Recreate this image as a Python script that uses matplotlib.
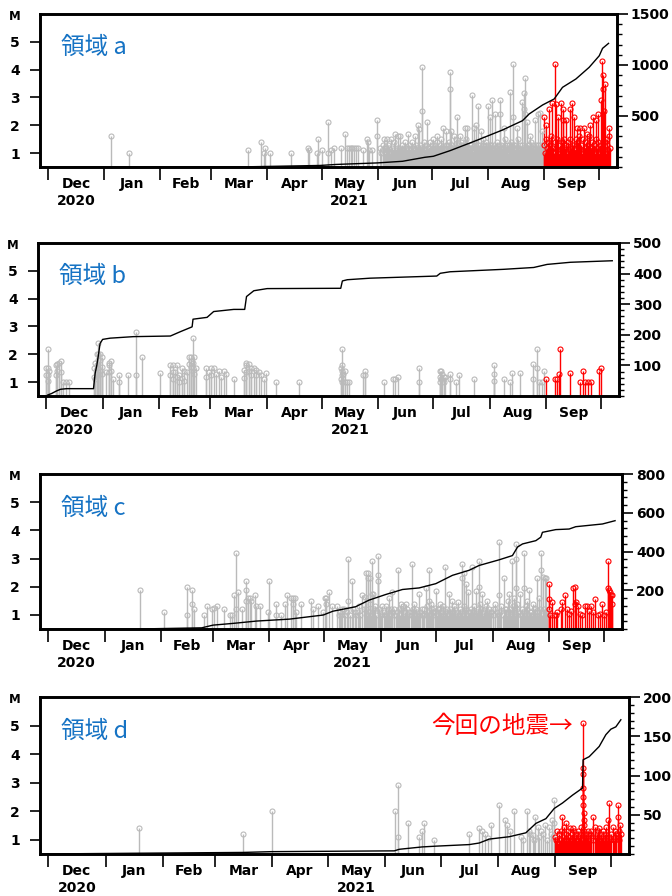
# -*- coding: utf-8 -*-
import matplotlib
matplotlib.use('Agg')
import matplotlib.pyplot as plt
from matplotlib.ticker import MultipleLocator
import numpy as np
import pandas as pd

plt.rcParams['font.family'] = ['DejaVu Sans']

# 基準日 (経過日数 0 = 2020-12-01)
BASE = pd.Timestamp('2020-12-01')
RECENT = 273.6          # 9月以降のイベントを赤で表示
XMIN, XMAX = -4.4, 313.8

# ---------------- 領域 a : (経過日数, M)
a_events = [
    (34.8, 1.6), (44.7, 1.0), (110.5, 1.1), (117.4, 1.4), (119.0, 1.0), (120.0, 1.2), (122.5, 1.0),
    (134.0, 1.0), (143.5, 1.2), (143.9, 1.1), (148.4, 1.0), (149.0, 1.5), (151.0, 1.1), (154.5, 1.0),
    (154.7, 2.1), (156.0, 1.1), (158.0, 1.2), (161.9, 1.2), (164.1, 1.7), (165.0, 1.2), (166.0, 1.2),
    (167.2, 1.2), (168.0, 1.2), (169.0, 1.2), (170.0, 1.2), (171.3, 1.2), (173.8, 1.1), (176.0, 1.5),
    (176.4, 1.4), (177.0, 1.1), (178.6, 1.1), (181.6, 2.2), (181.7, 1.6),
    (183.5, 1.2), (184.7, 1.3), (185.6, 1.5), (186.4, 1.2), (187.0, 1.5), (187.8, 1.3), (188.6, 1.0),
    (189.3, 1.5), (190.0, 1.2), (190.8, 1.4), (191.5, 1.7), (192.2, 1.1), (193.0, 1.6), (193.7, 1.2),
    (194.3, 1.6), (195.2, 1.3), (196.0, 1.1), (196.8, 1.4), (197.5, 1.2), (198.5, 1.7), (199.2, 1.3),
    (200.0, 1.1), (200.8, 1.4), (201.5, 1.2), (202.5, 1.6), (203.3, 1.3), (204.0, 1.1), (204.4, 2.0),
    (204.6, 1.85), (205.4, 1.3), (206.0, 1.2), (206.6, 4.1), (206.7, 2.5), (207.3, 1.4), (208.0, 1.1),
    (208.6, 1.3), (209.3, 2.1), (209.9, 1.2),
    (212.7, 1.5), (215.0, 1.6), (218.2, 1.9), (219.6, 1.8), (221.9, 3.9), (222.0, 3.3), (222.2, 1.8),
    (224.0, 1.6), (225.9, 2.3), (227.5, 1.6), (230.0, 1.9), (231.5, 1.9), (234.2, 3.1), (235.0, 1.9),
    (236.2, 2.0), (237.4, 2.7), (239.0, 1.8), (243.0, 2.7), (244.0, 2.3), (245.3, 2.9), (246.5, 2.4),
    (249.4, 2.9), (249.6, 2.4), (251.5, 1.9), (254.9, 3.2), (256.4, 4.2), (256.5, 2.3), (258.8, 1.9),
    (261.9, 2.85), (262.6, 3.15), (262.7, 2.6), (263.2, 3.7), (263.5, 2.4), (264.2, 2.1), (266.0, 1.6),
    (268.7, 2.2), (270.5, 2.4), (271.4, 2.45), (272.5, 1.8),
    (210.3, 1.2), (211.0, 1.4), (211.6, 1.1), (212.2, 1.3), (213.3, 1.0), (213.9, 1.2), (214.5, 1.4),
    (215.6, 1.1), (216.2, 1.3), (216.8, 1.5), (217.4, 1.2), (218.9, 1.0), (220.3, 1.3), (220.9, 1.1),
    (221.4, 1.4), (222.7, 1.2), (223.3, 1.0), (224.6, 1.3), (225.2, 1.5), (226.5, 1.1), (227.0, 1.2),
    (228.1, 1.4), (228.7, 1.0), (229.3, 1.3), (230.6, 1.1), (231.0, 1.5), (232.1, 1.2), (232.7, 1.0),
    (233.4, 1.3), (233.9, 1.1), (235.6, 1.4), (236.8, 1.2), (237.9, 1.0), (238.4, 1.3), (239.6, 1.1),
    (240.2, 1.5), (240.8, 1.2), (241.4, 1.0), (242.0, 1.4), (242.5, 1.2), (243.6, 1.1), (244.6, 1.3),
    (245.9, 1.0), (247.1, 1.2), (247.7, 1.4), (248.3, 1.1), (248.9, 1.3), (250.2, 1.0), (250.8, 1.2),
    (252.1, 1.5), (252.7, 1.1), (253.3, 1.3), (253.9, 1.0), (254.4, 1.2), (255.5, 1.4), (256.0, 1.1),
    (257.1, 1.3), (257.6, 1.0), (258.2, 1.2), (259.4, 1.5), (260.0, 1.1), (260.6, 1.3), (261.2, 1.0),
    (262.0, 1.2), (264.8, 1.3), (265.4, 1.1), (266.6, 1.4), (267.2, 1.0), (267.8, 1.2), (269.3, 1.3),
    (269.9, 1.1), (271.0, 1.0), (271.9, 1.2), (273.0, 1.3),
    (183.9, 1.0), (185.1, 1.1), (186.0, 1.0), (187.4, 1.1), (188.2, 1.2), (189.7, 1.0), (190.4, 1.1),
    (191.1, 1.0), (192.6, 1.2), (193.4, 1.0), (194.8, 1.1), (195.6, 1.0), (196.4, 1.2), (197.1, 1.0),
    (198.0, 1.1), (199.6, 1.0), (200.4, 1.2), (201.1, 1.0), (202.0, 1.1), (202.9, 1.0), (203.7, 1.2),
    (205.0, 1.0), (205.7, 1.1), (207.0, 1.0), (207.7, 1.2), (208.3, 1.0), (209.6, 1.1), (210.6, 1.0),
    (211.3, 1.1), (211.9, 1.0), (212.5, 1.2), (213.0, 1.1), (213.6, 1.3), (214.2, 1.0), (214.8, 1.2),
    (215.3, 1.1), (215.9, 1.0), (216.5, 1.2), (217.1, 1.0), (217.7, 1.1), (218.5, 1.2), (219.2, 1.1),
    (219.9, 1.3), (220.6, 1.0), (221.1, 1.2), (221.7, 1.1), (222.4, 1.0), (223.0, 1.3), (223.6, 1.1),
    (224.3, 1.2), (224.9, 1.0), (225.5, 1.1), (226.2, 1.3), (226.8, 1.0), (227.3, 1.1), (227.8, 1.3),
    (228.4, 1.2), (229.0, 1.1), (229.6, 1.0), (230.3, 1.2), (230.9, 1.3), (231.3, 1.0), (231.8, 1.2),
    (232.4, 1.1), (233.0, 1.3), (233.7, 1.2), (234.5, 1.0), (235.3, 1.1), (235.9, 1.2), (236.5, 1.0),
    (237.1, 1.3), (237.7, 1.1), (238.1, 1.2), (238.7, 1.0), (239.3, 1.2), (239.9, 1.3), (240.5, 1.0),
    (241.1, 1.1), (241.7, 1.3), (242.3, 1.0), (242.8, 1.1), (243.3, 1.2), (243.9, 1.3), (244.3, 1.0),
    (244.9, 1.2), (245.6, 1.1), (246.2, 1.3), (246.8, 1.1), (247.4, 1.0), (248.0, 1.2), (248.6, 1.0),
    (249.2, 1.1), (249.9, 1.3), (250.5, 1.1), (251.1, 1.2), (251.8, 1.0), (252.4, 1.3), (253.0, 1.2),
    (253.6, 1.1), (254.2, 1.3), (254.7, 1.0), (255.2, 1.2), (255.8, 1.1), (256.3, 1.3), (256.8, 1.0),
    (257.3, 1.2), (257.9, 1.1), (258.5, 1.3), (259.1, 1.0), (259.7, 1.2), (260.3, 1.0), (260.9, 1.1),
    (261.5, 1.3), (262.3, 1.1), (262.9, 1.0), (263.8, 1.2), (264.5, 1.0), (265.1, 1.2), (265.7, 1.3),
    (266.3, 1.1), (266.9, 1.2), (267.5, 1.3), (268.1, 1.1), (268.4, 1.0), (269.0, 1.2), (269.6, 1.0),
    (270.2, 1.3), (270.8, 1.1), (271.6, 1.3), (272.2, 1.0), (272.8, 1.1), (273.3, 1.2),
    # 9月
    (273.7, 2.3), (275.1, 2.0), (276.6, 2.6), (278.4, 2.8), (280.1, 4.2), (280.2, 2.75), (281.6, 2.3),
    (282.9, 2.8), (284.0, 2.6), (284.2, 2.2), (286.2, 2.2), (288.4, 2.6), (289.3, 2.8), (290.4, 2.3),
    (291.9, 1.9), (293.8, 1.9), (295.7, 1.9), (297.4, 1.7), (299.4, 2.0), (300.9, 2.3), (302.7, 2.2),
    (303.4, 2.4), (305.5, 2.9), (306.0, 4.3), (306.1, 3.8), (306.2, 3.3), (306.8, 2.5), (307.7, 3.5),
    (308.8, 1.5), (309.6, 1.9),
    (273.8, 1.3), (274.3, 1.0), (274.8, 1.5), (275.4, 1.2), (275.9, 1.4), (276.2, 1.0), (276.9, 1.3),
    (277.4, 1.1), (277.9, 1.6), (278.9, 1.2), (279.4, 1.0), (279.8, 1.4), (280.6, 1.2), (281.1, 1.5),
    (281.9, 1.0), (282.4, 1.3), (283.4, 1.1), (283.7, 1.4), (284.4, 1.0), (284.9, 1.5), (285.4, 1.2),
    (285.8, 1.3), (286.6, 1.0), (287.0, 1.4), (287.5, 1.1), (287.9, 1.5), (288.8, 1.2), (289.7, 1.0),
    (290.0, 1.3), (290.8, 1.1), (291.2, 1.5), (291.7, 1.2), (292.2, 1.0), (292.7, 1.4), (293.1, 1.6),
    (293.6, 1.1), (294.1, 1.3), (294.6, 1.0), (295.1, 1.5), (296.2, 1.2), (296.7, 1.0), (297.2, 1.4),
    (297.7, 1.1), (298.2, 1.3), (298.7, 1.6), (299.2, 1.0), (299.7, 1.2), (300.2, 1.4), (300.6, 1.1),
    (301.4, 1.3), (301.9, 1.0), (302.3, 1.5), (303.2, 1.2), (303.7, 1.4), (304.2, 1.0), (304.7, 1.3),
    (305.0, 1.1), (306.4, 1.2), (307.2, 1.4), (308.2, 1.0), (308.5, 1.3), (309.3, 1.1), (309.8, 1.6),
    (310.1, 1.2),
]
a_cum_day = [-4.4, 34, 110, 150, 159, 181.7, 195.7, 208, 212.7, 221.9, 236.2, 250.9, 261.9, 265.6,
             273, 279.4, 284, 291.4, 298.7, 304.3, 306.1, 309.4]
a_cum_n = [0, 1, 2, 15, 25, 40, 56, 95, 105, 160, 258, 363, 454, 520, 608, 667, 781, 863, 977,
           1091, 1163, 1212]

# ---------------- 領域 b
b_events = [
    (0.0, 1.5), (0.0, 1.25), (0.9, 2.2), (0.9, 1.5), (0.9, 1.25), (0.9, 1.05), (1.6, 1.4),
    (5.3, 1.6), (5.3, 1.25), (6.2, 1.65), (6.2, 1.4), (7.1, 1.7), (8.0, 1.75), (8.0, 1.35),
    (9.5, 1.0), (10.8, 1.0), (12.4, 1.0),
    (26.0, 1.5), (26.0, 1.2), (26.9, 1.7), (26.9, 1.1), (27.8, 2.0), (27.8, 1.6), (27.8, 1.3),
    (28.7, 2.4), (28.7, 2.0), (28.7, 1.8), (28.7, 1.5), (28.7, 1.25), (29.6, 2.0), (29.6, 1.8),
    (29.6, 1.4), (30.6, 1.9), (30.6, 1.55), (30.6, 1.3), (32.9, 1.35), (34.7, 1.7), (34.7, 1.6),
    (34.7, 1.35), (35.7, 1.75), (35.7, 1.4), (36.9, 1.1), (40.1, 1.25), (40.1, 1.0), (44.8, 1.25),
    (49.2, 2.8), (49.2, 1.25), (52.3, 1.9), (62.2, 1.33),
    (68.1, 1.6), (68.1, 1.25), (69.5, 1.6), (69.5, 1.35), (69.5, 1.1), (70.8, 1.35), (71.7, 1.6),
    (71.7, 1.2), (73.0, 1.25), (73.0, 1.0), (74.5, 1.5), (74.5, 1.15), (75.7, 1.4), (75.7, 1.05),
    (77.2, 1.35), (78.1, 1.9), (78.1, 1.65), (79.4, 1.9), (79.4, 1.75), (79.4, 1.55), (80.3, 2.6),
    (80.3, 1.7), (80.3, 1.5), (81.2, 1.9), (81.2, 1.3), (82.3, 1.5),
    (87.8, 1.5), (87.8, 1.2), (89.1, 1.35), (90.4, 1.5), (90.4, 1.25), (91.8, 1.5), (93.1, 1.3),
    (94.6, 1.4), (95.9, 1.2), (97.3, 1.4), (98.8, 1.3), (102.8, 1.1),
    (108.3, 1.45), (108.3, 1.15), (109.6, 1.7), (109.6, 1.6), (109.6, 1.35), (111.0, 1.65),
    (111.0, 1.4), (112.3, 1.5), (112.3, 1.25), (113.8, 1.5), (115.1, 1.45), (115.1, 1.25),
    (116.5, 1.35), (117.5, 1.25), (119.6, 1.1), (120.6, 1.33), (125.9, 1.0), (138.3, 1.0),
    (161.4, 1.5), (161.4, 1.1), (161.9, 2.2), (161.9, 1.6), (161.9, 1.4), (161.9, 1.25), (161.9, 1.0),
    (162.7, 1.3), (163.7, 1.4), (163.7, 1.0), (164.7, 1.0), (165.8, 1.0), (173.4, 1.25),
    (174.7, 1.4), (174.7, 1.25), (185.3, 1.0), (189.9, 1.1), (191.2, 1.1), (192.6, 1.2),
    (204.5, 1.5), (204.5, 1.0), (215.5, 1.4), (215.5, 1.2), (215.5, 1.0), (216.3, 1.4), (216.3, 1.1),
    (217.0, 1.3), (217.7, 1.2), (217.7, 1.0), (218.6, 1.2), (221.4, 1.3), (221.4, 1.1), (224.5, 1.0),
    (226.3, 1.25), (234.5, 1.1), (245.2, 1.6), (245.2, 1.3), (245.2, 1.05), (251.0, 1.1),
    (254.0, 1.0), (255.2, 1.33), (259.4, 1.33), (266.7, 1.65), (266.7, 1.1), (268.9, 2.2),
    (268.9, 1.5), (269.9, 1.0), (271.7, 1.0), (272.6, 1.4),
    # 9月
    (274.0, 1.1), (279.0, 1.1), (279.9, 1.1), (280.8, 1.3), (281.7, 2.2), (286.7, 1.33),
    (292.2, 1.0), (294.0, 1.4), (295.4, 1.0), (296.7, 1.0), (298.2, 1.0), (302.8, 1.4), (304.2, 1.5),
]
b_cum_day = [-4.4, 0.5, 0.8, 3, 5.9, 8, 11.3, 26, 26.9, 27.8, 28.7, 29.6, 31, 35.1, 47.9, 68.1,
             73.5, 80, 80.5, 88.2, 91.8, 102.8, 108.8, 109.8, 113.8, 121.1, 161.4, 162.3, 165,
             177.4, 214, 215.9, 221.3, 250.7, 267.1, 274.4, 287.2, 310.1]
b_cum_n = [0, 0, 3, 8, 17, 22, 24, 24, 74, 100, 134, 172, 185, 189, 194, 196, 210, 226, 251, 257,
           276, 283, 283, 325, 344, 351, 352, 376, 380, 385, 392, 401, 406, 414, 420, 430, 437, 442]

# ---------------- 領域 c
c_events = [
    (50.3, 1.9), (63.6, 1.1), (75.8, 2.0), (75.8, 1.0), (78.6, 1.9), (78.6, 1.4), (79.7, 1.2),
    (85.5, 1.0), (86.9, 1.3), (89.7, 1.2), (90.8, 1.25), (92.4, 1.3), (96.1, 1.2), (99.3, 1.0),
    (100.3, 1.0), (101.4, 1.7), (102.6, 3.2), (102.6, 1.2), (103.9, 1.8), (105.9, 1.2),
    (108.5, 2.2), (108.5, 1.9), (108.5, 1.5), (109.3, 1.6), (110.3, 1.6), (111.2, 1.5), (113.0, 1.7),
    (113.9, 1.3), (115.7, 1.3), (120.0, 1.1), (120.8, 2.2), (124.9, 1.4), (124.9, 1.0), (127.6, 1.0),
    (129.8, 1.4), (130.9, 1.7), (132.7, 1.6), (133.8, 1.6), (133.8, 1.4), (134.9, 1.6), (135.8, 1.1),
    (138.5, 1.4), (143.5, 1.5), (144.7, 1.2), (147.6, 1.3), (150.4, 1.1), (151.3, 1.6), (152.2, 1.6),
    (152.2, 1.4), (153.5, 1.8), (155.0, 1.3),
    (158.2, 1.3), (160.0, 1.0), (161.8, 1.2), (164.2, 3.0), (164.2, 1.5), (166.0, 2.2), (167.9, 1.1),
    (170.0, 1.3), (171.9, 1.7), (173.3, 1.65), (174.1, 2.5), (174.1, 1.2), (175.0, 2.5), (175.0, 2.3),
    (176.1, 2.3), (176.1, 1.4), (177.0, 2.9), (177.0, 1.75), (177.9, 1.75), (178.8, 1.3), (180.3, 3.1),
    (180.3, 2.4), (180.3, 2.2), (181.4, 1.1), (182.8, 1.3), (184.6, 1.3), (185.5, 1.1), (186.4, 1.6),
    (187.4, 1.2), (188.3, 1.8), (189.4, 1.0), (191.2, 2.6), (191.9, 1.2), (192.8, 1.4), (194.1, 1.3),
    (195.6, 1.4), (197.0, 1.0), (198.8, 2.8), (199.6, 1.2), (200.3, 1.4), (201.6, 1.1), (202.8, 1.75),
    (204.2, 1.2), (205.2, 1.0), (206.5, 1.95), (207.4, 1.3), (208.3, 2.6), (208.3, 1.5), (209.2, 1.4),
    (210.2, 1.1), (211.3, 1.25), (212.0, 1.85), (213.1, 1.2), (214.2, 1.4), (215.3, 1.0), (216.0, 1.3),
    (217.1, 2.7), (218.2, 1.2), (219.2, 1.75), (220.2, 1.1), (221.1, 1.5), (222.2, 1.3), (223.3, 1.0),
    (224.4, 1.45), (225.3, 1.2), (226.2, 2.8), (226.2, 2.3), (227.3, 2.5), (227.3, 1.3), (228.4, 2.1),
    (229.5, 1.8), (230.6, 1.1), (232.0, 2.7), (232.9, 1.3), (233.8, 1.85), (234.8, 1.2), (235.6, 2.9),
    (235.6, 2.0), (236.4, 1.4), (237.1, 1.75), (238.2, 1.1), (239.3, 1.3), (240.2, 1.5), (241.5, 1.0),
    (243.0, 1.2), (244.1, 1.4), (245.3, 1.1), (246.6, 3.6), (246.6, 1.7), (247.9, 1.3), (249.3, 2.3),
    (250.2, 1.2), (251.2, 1.5), (252.0, 1.75), (252.8, 1.1), (253.5, 2.9), (254.2, 1.3), (255.0, 1.6),
    (255.7, 3.5), (255.7, 3.0), (255.7, 1.95), (256.6, 1.4), (257.9, 1.75), (259.0, 1.2), (260.3, 3.2),
    (260.3, 1.95), (261.2, 1.3), (262.1, 1.5), (263.0, 1.9), (264.1, 1.1), (265.2, 1.4), (266.3, 1.25),
    (267.6, 2.3), (268.5, 1.6), (269.5, 3.2), (269.5, 2.6), (270.6, 2.35), (271.7, 2.3), (272.5, 2.3),
    (158.9, 1.0), (159.4, 1.1), (160.7, 1.2), (162.5, 1.0), (163.3, 1.1), (165.2, 1.0), (166.8, 1.2),
    (168.6, 1.0), (169.3, 1.1), (170.8, 1.0), (172.6, 1.2), (174.6, 1.0), (175.6, 1.1), (176.6, 1.0),
    (178.3, 1.2), (179.5, 1.0), (181.0, 1.2), (182.1, 1.0), (183.5, 1.1), (184.1, 1.0), (186.0, 1.2),
    (186.9, 1.0), (187.8, 1.1), (189.0, 1.2), (190.2, 1.0), (190.8, 1.1), (192.3, 1.0), (193.4, 1.2),
    (194.7, 1.0), (195.1, 1.1), (196.2, 1.2), (197.6, 1.1), (198.3, 1.0), (199.1, 1.1), (200.8, 1.0),
    (201.2, 1.2), (202.2, 1.0), (203.5, 1.1), (204.7, 1.0), (205.8, 1.2), (206.9, 1.0), (207.9, 1.1),
    (208.8, 1.0), (209.7, 1.2), (210.7, 1.0), (211.7, 1.1), (212.6, 1.0), (213.6, 1.2), (214.8, 1.1),
    (215.7, 1.2), (216.5, 1.0), (217.6, 1.1), (218.7, 1.0), (219.7, 1.2), (220.7, 1.0), (221.6, 1.1),
    (222.7, 1.2), (223.8, 1.1), (224.9, 1.0), (225.8, 1.1), (226.7, 1.0), (227.9, 1.2), (229.0, 1.0),
    (229.9, 1.1), (231.2, 1.2), (231.6, 1.0), (232.5, 1.1), (233.3, 1.0), (234.3, 1.1), (235.2, 1.0),
    (236.9, 1.2), (237.6, 1.0), (238.7, 1.2), (239.8, 1.0), (240.7, 1.1), (241.0, 1.2), (242.2, 1.1),
    (243.5, 1.0), (244.6, 1.2), (245.8, 1.0), (247.3, 1.1), (248.5, 1.0), (249.8, 1.2), (250.7, 1.0),
    (251.6, 1.1), (252.4, 1.2), (253.1, 1.0), (254.6, 1.1), (255.4, 1.0), (256.2, 1.2), (257.2, 1.1),
    (258.4, 1.0), (259.5, 1.1), (260.8, 1.0), (261.7, 1.2), (262.5, 1.0), (263.5, 1.1), (264.6, 1.0),
    (265.7, 1.2), (266.8, 1.0), (267.1, 1.1), (268.0, 1.0), (269.0, 1.2), (270.1, 1.0), (271.1, 1.2),
    (272.0, 1.0), (273.0, 1.1),
    # 9月
    (273.9, 2.1), (273.9, 1.55), (273.9, 1.2), (274.7, 1.0), (275.4, 1.45), (276.5, 1.0), (277.6, 1.0),
    (278.5, 1.1), (280.3, 1.2), (281.2, 1.45), (282.5, 1.7), (283.8, 1.2), (284.9, 1.05), (285.9, 1.15),
    (287.0, 1.95), (288.2, 2.0), (288.2, 1.4), (288.9, 1.45), (290.0, 1.3), (291.1, 1.05), (292.2, 1.0),
    (293.3, 1.3), (294.4, 1.3), (295.5, 1.15), (296.7, 1.3), (297.8, 1.1), (299.1, 1.55), (300.5, 1.0),
    (301.6, 1.05), (302.7, 1.4), (304.0, 1.0), (305.3, 1.1), (306.0, 2.9), (306.0, 1.95), (306.7, 1.9),
    (307.5, 1.8), (307.8, 1.7), (308.6, 1.7), (308.6, 1.4),
]
c_cum_day = [-4.4, 49, 84, 90.2, 101.2, 114, 132, 150.4, 155.8, 168.2, 175.5, 184.6, 193.8, 202.9,
             212, 221.1, 230.2, 235.7, 246.6, 253.9, 256.7, 259.4, 266.7, 269.4, 270.3, 277.6,
             284.9, 288.5, 303.1, 310]
c_cum_n = [0, 0, 6, 20, 29, 41, 51, 72, 92, 115, 149, 178, 204, 212, 234, 277, 303, 328, 357, 379,
           423, 439, 456, 474, 499, 513, 516, 528, 542, 559]

# ---------------- 領域 d
d_events = [
    (49.3, 1.4), (105.3, 1.2), (120.8, 2.0), (187.4, 2.0), (188.9, 2.9), (189.0, 1.1), (194.2, 1.6),
    (200.2, 1.1), (201.9, 1.3), (203.2, 1.6), (208.4, 1.0), (227.5, 1.2), (232.9, 1.4), (234.2, 1.3),
    (235.9, 1.2), (237.6, 1.05), (239.2, 1.5), (243.7, 2.2), (246.9, 1.7), (247.7, 1.5), (249.6, 1.3),
    (251.8, 2.0), (255.4, 1.1), (256.5, 1.0), (258.5, 2.0), (259.6, 1.3), (260.5, 1.2), (261.7, 1.15),
    (262.3, 1.0), (263.1, 1.8), (264.4, 1.45), (265.0, 1.1), (266.2, 1.3), (267.3, 1.2), (268.5, 1.5),
    (269.6, 1.0), (270.7, 1.45), (271.4, 1.2), (272.1, 1.7), (273.2, 2.4), (273.3, 1.6),
    # 9月
    (273.9, 1.1), (274.4, 1.0), (274.9, 1.3), (275.4, 0.9), (275.9, 1.2), (276.4, 1.0), (276.9, 1.3),
    (277.5, 1.8), (278.0, 1.1), (278.5, 1.45), (279.0, 1.0), (279.5, 1.6), (280.0, 1.2), (280.5, 1.0),
    (281.0, 1.3), (281.5, 1.1), (282.0, 1.4), (282.5, 1.0), (283.0, 1.2), (283.3, 1.4), (283.8, 1.0),
    (284.3, 1.3), (284.8, 1.1), (285.3, 1.2), (285.8, 1.0), (286.3, 1.3), (286.8, 1.1), (287.3, 1.2),
    (287.8, 1.45), (288.3, 1.0), (288.9, 5.1), (289.0, 3.5), (289.05, 3.3), (289.1, 2.8), (289.15, 2.5),
    (289.2, 2.2), (289.25, 1.95), (289.3, 1.7), (289.4, 1.5), (289.6, 1.3), (289.9, 1.1), (290.3, 1.2),
    (290.8, 1.0), (291.3, 1.1), (291.8, 1.3), (292.3, 1.0), (292.8, 1.2), (293.2, 1.3), (294.1, 1.8),
    (294.6, 1.0), (295.3, 1.45), (295.8, 1.1), (296.3, 1.2), (296.8, 1.0), (297.3, 1.3), (297.7, 1.4),
    (298.2, 1.0), (298.7, 1.2), (299.2, 1.1), (299.7, 1.3), (300.2, 1.0), (300.7, 1.2), (301.3, 1.45),
    (301.8, 1.0), (302.2, 1.7), (302.8, 1.1), (303.2, 2.3), (303.7, 1.0), (304.2, 1.2), (305.0, 1.45),
    (305.5, 1.0), (306.0, 1.3), (306.5, 1.1), (307.0, 1.2), (307.6, 2.2), (307.7, 1.8), (308.2, 1.0),
    (308.6, 1.3), (309.0, 1.5), (309.4, 1.2),
]
d_cum_day = [-4.4, 49.3, 105.3, 120.8, 187, 189.7, 202, 209.5, 227.5, 232.9, 238.3, 249.1, 258.1,
             263.5, 268.9, 273.4, 277.9, 283.3, 288.7, 289.0, 292.3, 297.7, 301.3, 304, 306.7, 309.4]
d_cum_n = [0, 1, 2, 3, 4, 6, 9, 10, 12, 14, 19, 22, 27, 39, 45, 58, 65, 75, 84, 120, 124, 137, 152,
           159, 162, 171]

MAINSHOCK = (288.9, 5.1)

GRAY = '#bababa'
RED = '#ff0000'
BLUE = '#1673c4'
CJK = ['Noto Sans CJK JP', 'DejaVu Sans']

W, H = 672, 896
fig = plt.figure(figsize=(W / 100, H / 100), dpi=100)

months = pd.date_range('2020-12-01', '2021-10-01', freq='MS')
month_days = (months - BASE).days.values.astype(float)
mid_days = (month_days[:-1] + month_days[1:]) / 2
month_names = list(months[:-1].strftime('%b'))


def px_rect(l, t, r, b):
    return [l / W, 1 - b / H, (r - l) / W, (b - t) / H]


def draw_panel(rect, events, cum_day, cum_n, ntop, nmajor, nminor, name):
    ax = fig.add_axes(px_rect(*rect))
    ev = np.array(events)
    day, mag = ev[:, 0], ev[:, 1]
    old = day < RECENT
    for sel, col in [(old, GRAY), (~old, RED)]:
        ax.vlines(day[sel], 0.5, mag[sel], colors=col, lw=1.0, zorder=2)
        ax.plot(day[sel], mag[sel], 'o', ms=3.6, mfc='none', mec=col, mew=0.8, zorder=3)
    ax.set_xlim(XMIN, XMAX)
    ax.set_ylim(0.5, 6.0)
    ax.set_yticks([1, 2, 3, 4, 5])
    ax.set_xticks(month_days)
    ax.set_xticklabels([])
    ax.set_xticks(mid_days, minor=True)
    ax.set_xticklabels(month_names, minor=True, fontweight='bold')
    ax.tick_params(axis='x', which='major', direction='out', length=9.5, width=1.2)
    ax.tick_params(axis='x', which='minor', length=0, pad=7.5, labelsize=10)
    ax.tick_params(axis='y', direction='out', length=7.5, width=1.2, pad=7, labelsize=10)
    for t in ax.get_yticklabels():
        t.set_fontweight('bold')
    for yr, xd in [('2020', mid_days[0]), ('2021', mid_days[5])]:
        ax.annotate(yr, xy=(xd, 0), xycoords=('data', 'axes fraction'), xytext=(0, -24.5),
                    textcoords='offset points', ha='center', va='center', fontsize=10,
                    fontweight='bold')
    ax.annotate('M', xy=(0, 1), xycoords='axes fraction', xytext=(-18.5, -1.5),
                textcoords='offset points', ha='center', va='center', fontsize=8.5,
                fontweight='bold')
    ax.text(0.036, 0.78, name, transform=ax.transAxes, fontsize=17, color=BLUE,
            family=CJK, ha='left', va='center')

    ax2 = ax.twinx()
    ax2.plot(cum_day, cum_n, color='black', lw=1.0, zorder=4)
    ax2.set_ylim(0, ntop)
    ax2.set_yticks(np.arange(nmajor, ntop + 1, nmajor))
    ax2.yaxis.set_minor_locator(MultipleLocator(nminor))
    ax2.tick_params(axis='y', which='major', direction='out', length=8, width=1.2, pad=2,
                    labelsize=10)
    ax2.tick_params(axis='y', which='minor', direction='out', length=3.5, width=1.0)
    for t in ax2.get_yticklabels():
        t.set_fontweight('bold')
    for a in (ax, ax2):
        for s in a.spines.values():
            s.set_linewidth(1.9)
    return ax, ax2


draw_panel((40, 14, 616.5, 167), a_events, a_cum_day, a_cum_n, 1500, 500, 100, '領域 a')
draw_panel((38, 243, 619, 396), b_events, b_cum_day, b_cum_n, 500, 100, 20, '領域 b')
draw_panel((40, 474, 622, 629), c_events, c_cum_day, c_cum_n, 800, 200, 40, '領域 c')
axd, _ = draw_panel((40, 697, 629, 854), d_events, d_cum_day, d_cum_n, 200, 50, 10, '領域 d')

axd.annotate('今回の地震→', xy=MAINSHOCK, xytext=(-7, -2.5), textcoords='offset points',
             ha='right', va='center', fontsize=17, color=RED, family=CJK)

fig.savefig('out.png', dpi=100)
